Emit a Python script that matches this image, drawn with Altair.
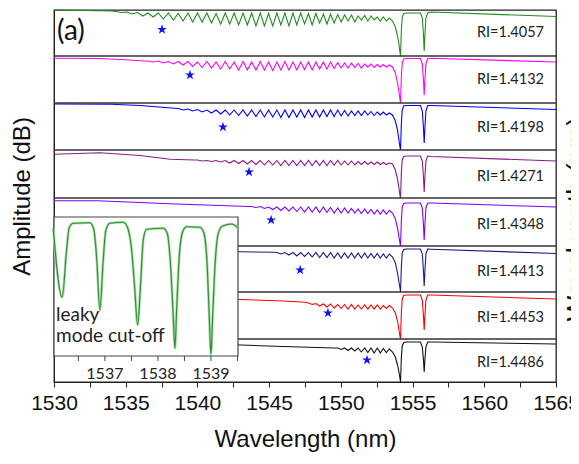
import altair as alt
import pandas as pd

# ---------------- data ----------------
RI = ["RI=1.4057", "RI=1.4132", "RI=1.4198", "RI=1.4271",
      "RI=1.4348", "RI=1.4413", "RI=1.4453", "RI=1.4486"]
COLORS = ["#1f8f1f", "#ff00ff", "#0000ff", "#8b1a8b",
          "#8000ff", "#1a1a8c", "#ff0000", "#111111"]

# cladding-mode resonance dips and the maxima between them (nm)
DIP_WL = [1533.15, 1533.93, 1534.70, 1535.45, 1536.19, 1536.91, 1537.62, 1538.32, 1539.00, 1539.67,
          1540.33, 1540.98, 1541.62, 1542.25, 1542.87, 1543.48, 1544.08, 1544.67, 1545.25, 1545.82,
          1546.38, 1546.93, 1547.47, 1548.00, 1548.52, 1549.03, 1549.53, 1550.02, 1550.50, 1550.97,
          1551.43, 1551.88, 1552.32, 1552.75, 1553.17]
PEAK_WL = [1532.75, 1533.54, 1534.32, 1535.08, 1535.82, 1536.55, 1537.27, 1537.97, 1538.66, 1539.34,
           1540.00, 1540.66, 1541.30, 1541.94, 1542.56, 1543.18, 1543.78, 1544.38, 1544.96, 1545.54,
           1546.10, 1546.66, 1547.20, 1547.74, 1548.26, 1548.78, 1549.28, 1549.78, 1550.26, 1550.74,
           1551.20, 1551.66, 1552.10, 1552.54, 1552.96, 1553.38]

# per spectrum: drop below the panel top (relative dB)
GREEN_BASE = [[1530, 0.0], [1532, 0.5], [1534, 1.0]]
GREEN_FIRST = 2
GREEN_PEAKS = [1.5, 2, 2.5, 3, 3, 3, 3.5, 3, 3, 3, 3.5, 3, 3, 3, 3, 3, 3.5, 3, 3, 3, 3, 3.5, 3.5,
               4, 4, 4.5, 5, 5, 6, 5.5, 6, 7, 7, 8]
GREEN_DIPS = [2.5, 4, 6, 7, 9, 10, 11, 12, 12, 13, 14, 14, 15, 15, 16, 16, 16, 15, 16, 15,
              14, 15, 13, 14, 13, 12, 11, 12, 10, 11, 10, 11, 11]
GREEN_TAIL = [[1553.6, 11], [1553.8, 17], [1553.95, 26], [1554.05, 34], [1554.12, 42], [1554.16, 46],
              [1554.22, 20], [1554.28, 7], [1554.38, 3.5], [1554.55, 3], [1555.55, 3], [1555.68, 8],
              [1555.76, 25], [1555.81, 41], [1555.86, 25], [1555.93, 8], [1556.05, 3], [1556.3, 2],
              [1565, 6.5]]

MAGENTA_BASE = [[1530, 2.3], [1533.2, 2.5], [1535, 3.8], [1536.3, 5]]
MAGENTA_FIRST = 5
MAGENTA_PEAKS = [5, 5, 5.5, 5.5, 5.5, 6, 5.5, 6, 5.5, 6, 5.5, 6, 5.5, 6, 6, 5.5, 6, 6, 6, 6,
                 6, 6, 6.5, 7, 7, 7.5, 8, 8, 8.5, 8.5, 9]
MAGENTA_DIPS = [6, 7, 8, 9, 10.5, 11.5, 12, 13, 13, 14, 14, 14, 14, 14.5, 14, 14, 14, 13.5, 14, 13,
                13, 12.5, 12, 12, 11.5, 12, 11, 11.5, 11, 11]
MAGENTA_TAIL = [[1553.6, 11], [1553.8, 17], [1553.95, 27], [1554.05, 36], [1554.12, 43], [1554.16, 47],
                [1554.22, 20], [1554.28, 7], [1554.38, 3], [1554.55, 2.5], [1555.55, 2.5], [1555.68, 8],
                [1555.76, 24], [1555.81, 39], [1555.86, 24], [1555.93, 8], [1556.05, 2.5], [1556.3, 2.3],
                [1565, 6]]

BLUE_BASE = [[1530, 1], [1534, 1.2], [1536, 2.5], [1538.4, 5.2]]
BLUE_FIRST = 8
BLUE_PEAKS = [5.5, 6, 6.5, 7, 7, 7, 7, 7, 7, 7, 7, 7, 7, 7, 7, 7, 7, 7, 7, 7,
              7.5, 8, 8, 8, 8.5, 9, 9, 10]
BLUE_DIPS = [7, 8, 9, 10, 11, 12, 12.5, 13, 13.5, 14, 14, 14.5, 14.5, 14, 14.5, 14, 14, 13.5, 13.5, 13,
             13, 12.5, 12.5, 12, 12.5, 12, 12]
BLUE_TAIL = [[1553.6, 12], [1553.8, 18], [1553.95, 27], [1554.05, 37], [1554.12, 44], [1554.16, 47],
             [1554.22, 20], [1554.28, 7], [1554.38, 3], [1554.55, 2.5], [1555.55, 2.5], [1555.68, 8],
             [1555.76, 25], [1555.81, 40], [1555.86, 25], [1555.93, 8], [1556.05, 2.5], [1556.3, 2.5],
             [1565, 6.5]]

PURPLE_BASE = [[1530, 4.3], [1533.2, 2.7], [1536, 5.5], [1538.1, 9.3], [1539.8, 10]]
PURPLE_FIRST = 10
PURPLE_PEAKS = [10, 10.5, 10.5, 10.5, 10.5, 10.5, 10.5, 10.5, 10.5, 10.5, 10.5, 10.5, 10.5, 10.5,
                10.5, 10.5, 10.5, 10.5, 11, 11, 11.5, 11.5, 12, 12, 12.5, 13]
PURPLE_DIPS = [11, 11.5, 12, 13, 13.5, 14, 14.5, 15, 15, 15.5, 15.5, 15.5, 15.5, 15.5, 15.5, 15.5,
               15, 15, 15, 15, 14.5, 14.5, 14.5, 14.5, 14.5]
PURPLE_TAIL = [[1553.6, 14], [1553.8, 20], [1553.95, 29], [1554.05, 38], [1554.12, 45], [1554.16, 48],
               [1554.22, 22], [1554.28, 10], [1554.38, 6.5], [1554.55, 6], [1555.55, 6], [1555.68, 11],
               [1555.76, 27], [1555.81, 42], [1555.86, 27], [1555.93, 11], [1556.05, 6], [1556.3, 6.5],
               [1565, 11]]

VIOLET_BASE = [[1530, 2.7], [1533, 2.7], [1538.5, 6], [1541.6, 7.5], [1543.6, 8.5]]
VIOLET_FIRST = 16
VIOLET_PEAKS = [8.5, 8.5, 9, 9, 9, 9, 9, 9, 9, 9, 9.5, 10, 10, 10.5, 11, 11, 11.5, 12, 12, 12.5]
VIOLET_DIPS = [9.5, 10.5, 11.5, 12.5, 13, 13.5, 14, 14, 14.5, 14.5, 15, 15, 15, 15, 15.5, 15.5, 16, 16, 16]
VIOLET_TAIL = [[1553.6, 15], [1553.8, 21], [1553.95, 30], [1554.05, 39], [1554.12, 45], [1554.16, 48],
               [1554.22, 22], [1554.28, 9], [1554.38, 5.5], [1554.55, 5], [1555.55, 5], [1555.68, 10],
               [1555.76, 27], [1555.81, 42], [1555.86, 27], [1555.93, 10], [1556.05, 5], [1556.3, 5],
               [1565, 9]]

NAVY_BASE = [[1530, 2], [1535, 3], [1540, 4.5], [1543, 5.7], [1545.3, 6.3]]
NAVY_FIRST = 19
NAVY_PEAKS = [6.5, 6.5, 6.5, 6.5, 6.5, 6.5, 6.5, 6.5, 7, 7, 7, 7, 7, 7.5, 7.5, 8, 8]
NAVY_DIPS = [8, 9, 10, 10.5, 11, 11.5, 11.5, 12, 12, 12, 12, 12, 12, 12, 12, 12]
NAVY_TAIL = [[1553.6, 11], [1553.8, 17], [1553.95, 27], [1554.05, 36], [1554.12, 42], [1554.16, 46],
             [1554.22, 20], [1554.28, 7], [1554.38, 3.5], [1554.55, 3], [1555.55, 3], [1555.68, 8],
             [1555.76, 25], [1555.81, 40], [1555.86, 25], [1555.93, 8], [1556.05, 3], [1556.3, 3.2],
             [1565, 7.5]]

RED_BASE = [[1530, 3], [1535, 4.5], [1540, 6], [1543, 7.5], [1546, 9], [1547.5, 10.3]]
RED_FIRST = 23
RED_PEAKS = [11, 11.5, 12, 12, 12.5, 12.5, 12.5, 13, 13, 13, 13, 13.5, 13.5]
RED_DIPS = [12.5, 14, 15, 16, 16.5, 17, 17, 17, 17, 17, 17, 16.5]
RED_TAIL = [[1553.6, 16], [1553.8, 21], [1553.95, 29], [1554.05, 38], [1554.12, 44], [1554.16, 47],
            [1554.22, 20], [1554.28, 7], [1554.38, 3.5], [1554.55, 3], [1555.55, 3], [1555.68, 8],
            [1555.76, 24], [1555.81, 38], [1555.86, 24], [1555.93, 8], [1556.05, 3], [1556.3, 3],
            [1565, 7]]

BLACK_BASE = [[1530, 2], [1535, 3.5], [1540, 5], [1543, 6], [1546, 7.5], [1549.5, 9]]
BLACK_FIRST = 27
BLACK_PEAKS = [9, 9, 9, 9, 9, 9, 9, 9.5, 10]
BLACK_DIPS = [10.5, 11.5, 12, 13, 13.5, 14, 14, 13.5]
BLACK_TAIL = [[1553.6, 13], [1553.8, 18], [1553.95, 26], [1554.05, 33], [1554.12, 39], [1554.16, 43],
              [1554.22, 18], [1554.28, 7], [1554.38, 3.5], [1554.55, 3], [1555.55, 3], [1555.68, 8],
              [1555.76, 21], [1555.81, 33], [1555.86, 21], [1555.93, 8], [1556.05, 3], [1556.3, 3],
              [1565, 5]]

# cut-off markers (wavelength, drop below panel top)
STAR_WL = [1537.53, 1539.48, 1541.78, 1543.60, 1545.14, 1547.16, 1549.10, 1551.82]
STAR_DROP = [19.5, 19, 24, 22, 22, 24, 21, 21]

# inset: zoom of the RI=1.4057 spectrum (wavelength nm, amplitude dB)
INSET_WL = [1536.025, 1536.194, 1536.277, 1536.326, 1536.402, 1536.717, 1536.792, 1536.843, 1536.906,
            1536.968, 1537.019, 1537.094, 1537.345, 1537.421, 1537.504, 1537.560, 1537.617, 1537.674,
            1537.723, 1537.787, 1538.100, 1538.175, 1538.240, 1538.289, 1538.321, 1538.353, 1538.402,
            1538.466, 1538.542, 1538.792, 1538.868, 1538.930, 1538.968, 1539.000, 1539.032, 1539.075,
            1539.138, 1539.221, 1539.391, 1539.515]
INSET_DB = [-1.13, -8.03, -3.3, -1.1, -0.63, -0.57, -1.3, -3.97, -9.3, -4.3, -1.3, -0.63, -0.53,
            -0.97, -3.3, -6.97, -10.8, -6.63, -2.3, -1.23, -1.13, -1.63, -4.97, -9.97, -13.13, -9.3,
            -3.97, -1.47, -0.97, -1.03, -1.63, -4.97, -9.97, -13.73, -9.97, -4.97, -1.63, -0.9, -0.7,
            -1.13]
INSET_MAJOR = [1537, 1538, 1539]
INSET_MINOR = [1536.5, 1537.5, 1538.5, 1539.5]

# ---------------- layout ----------------
PLOT_W, PLOT_H = 502, 372
X0, X1 = 1530, 1565
PANEL_TOP = [0, 46, 93, 140, 188, 236, 282, 329]
LABEL_Y = [23, 70, 118, 167, 215, 262, 308, 353]
DIVIDERS = PANEL_TOP[1:]
AXIS_FONT = "Liberation Sans"
TEXT_FONT = "Lato"
STAR_PATH = ("M0,-1L0.2245,-0.309L0.951,-0.309L0.363,0.118L0.588,0.809L0,0.382"
             "L-0.588,0.809L-0.363,0.118L-0.951,-0.309L-0.2245,-0.309Z")

# inset axes: its wavelength window sits over the first 184 px, its dB window over 207..346 px
INSET_X_DOMAIN = (1536.04, 1539.51)
INSET_X_PX = (0, 184)
INSET_Y_DOMAIN = (-13.9, 0.0)
INSET_Y_PX = (346, 207)
PX_PER_NM = PLOT_W / (X1 - X0)


def inset_x(wl):
    px = INSET_X_PX[0] + (wl - INSET_X_DOMAIN[0]) / (INSET_X_DOMAIN[1] - INSET_X_DOMAIN[0]) * (INSET_X_PX[1] - INSET_X_PX[0])
    return X0 + px / PX_PER_NM


def inset_y(db):
    return INSET_Y_PX[0] + (db - INSET_Y_DOMAIN[0]) / (INSET_Y_DOMAIN[1] - INSET_Y_DOMAIN[0]) * (INSET_Y_PX[1] - INSET_Y_PX[0])


SPECTRA = [
    (GREEN_BASE, GREEN_FIRST, GREEN_PEAKS, GREEN_DIPS, GREEN_TAIL),
    (MAGENTA_BASE, MAGENTA_FIRST, MAGENTA_PEAKS, MAGENTA_DIPS, MAGENTA_TAIL),
    (BLUE_BASE, BLUE_FIRST, BLUE_PEAKS, BLUE_DIPS, BLUE_TAIL),
    (PURPLE_BASE, PURPLE_FIRST, PURPLE_PEAKS, PURPLE_DIPS, PURPLE_TAIL),
    (VIOLET_BASE, VIOLET_FIRST, VIOLET_PEAKS, VIOLET_DIPS, VIOLET_TAIL),
    (NAVY_BASE, NAVY_FIRST, NAVY_PEAKS, NAVY_DIPS, NAVY_TAIL),
    (RED_BASE, RED_FIRST, RED_PEAKS, RED_DIPS, RED_TAIL),
    (BLACK_BASE, BLACK_FIRST, BLACK_PEAKS, BLACK_DIPS, BLACK_TAIL),
]

rows = []
for i, (base, first, peaks, dips, tail) in enumerate(SPECTRA):
    pts = [tuple(p) for p in base]
    for k in range(first, len(DIP_WL)):
        pts.append((PEAK_WL[k], peaks[k - first]))
        pts.append((DIP_WL[k], dips[k - first]))
    pts.append((PEAK_WL[-1], peaks[-1]))
    pts += [tuple(p) for p in tail]
    for w, d in pts:
        rows.append({"panel": RI[i], "wl": w, "ypx": PANEL_TOP[i] + d})
spec = pd.DataFrame(rows)

stars = pd.DataFrame({"wl": STAR_WL, "ypx": [t + d for t, d in zip(PANEL_TOP, STAR_DROP)]})
labels = pd.DataFrame({"txt": RI, "ypx": LABEL_Y, "wl": [X0 + 490 / PX_PER_NM] * 8})
divs = pd.DataFrame({"ypx": DIVIDERS})

XS = alt.Scale(domain=[X0, X1], nice=False, zero=False)
YS = alt.Scale(domain=[PLOT_H, 0], nice=False, zero=False)

tick_vals = [X0 + 2.5 * i for i in range(15)]
x_axis = alt.Axis(values=tick_vals, labelExpr="datum.value % 5 == 0 ? datum.label : ''",
                  format="d", tickSize=5, tickColor="#222", domainColor="#222", labelColor="#111",
                  labelFont=AXIS_FONT, labelFontSize=21, labelPadding=5, labelFlush=False,
                  labelOverlap=False, grid=False, title="Wavelength (nm)", titleFont=AXIS_FONT,
                  titleFontSize=24, titleFontWeight="normal", titleColor="#111", titlePadding=14)
y_axis = alt.Axis(labels=False, ticks=False, grid=False, domainColor="#222",
                  title="Amplitude (dB)", titleFont=AXIS_FONT, titleFontSize=24,
                  titleFontWeight="normal", titleColor="#111", titlePadding=20)

X = lambda f="wl": alt.X(f"{f}:Q", scale=XS, axis=x_axis)
Y = lambda f="ypx": alt.Y(f"{f}:Q", scale=YS, axis=y_axis)

lines = alt.Chart(spec).mark_line(strokeWidth=1.1).encode(
    x=X(), y=Y(),
    color=alt.Color("panel:N", scale=alt.Scale(domain=RI, range=COLORS), legend=None),
)
rules = alt.Chart(divs).mark_rule(color="#333", strokeWidth=1.6).encode(y=Y())
star_pts = alt.Chart(stars).mark_point(shape=STAR_PATH, filled=True, color="#1010ff",
                                       size=110, opacity=1).encode(x=X(), y=Y())
ri_text = alt.Chart(labels).mark_text(align="right", baseline="middle", font=TEXT_FONT,
                                      fontSize=14.5, color="#222").encode(
    x=X(), y=Y(), text="txt:N")
tag = alt.Chart(pd.DataFrame({"t": ["(a)"], "wl": [X0 + 3 / PX_PER_NM], "ypx": [22]})).mark_text(
    align="left", baseline="middle", font=TEXT_FONT, fontSize=28, color="#111").encode(
    x=X(), y=Y(), text="t:N")

# inset
box_df = pd.DataFrame({"wl": [inset_x(INSET_X_DOMAIN[0])], "wl2": [inset_x(INSET_X_DOMAIN[1])],
                       "ypx": [INSET_Y_PX[1]], "ypx2": [INSET_Y_PX[0]]})
box = alt.Chart(box_df).mark_rect(fill="white", stroke="#444", strokeWidth=1.2).encode(
    x=X(), x2="wl2:Q", y=Y(), y2="ypx2:Q")
inset_df = pd.DataFrame({"wl": [inset_x(w) for w in INSET_WL], "ypx": [inset_y(d) for d in INSET_DB]})
halo = alt.Chart(inset_df).mark_line(color="#a6d9a6", strokeWidth=2.6, interpolate="monotone").encode(
    x=X(), y=Y())
curve = alt.Chart(inset_df).mark_line(color="#2a922a", strokeWidth=1.1, interpolate="monotone").encode(
    x=X(), y=Y())
tick_df = pd.DataFrame({"wl": [inset_x(w) for w in INSET_MAJOR + INSET_MINOR],
                        "ypx": [INSET_Y_PX[0]] * 7, "ypx2": [INSET_Y_PX[0] + 5] * 7})
iticks = alt.Chart(tick_df).mark_rule(color="#444", strokeWidth=1).encode(x=X(), y=Y(), y2="ypx2:Q")
ilab_df = pd.DataFrame({"wl": [inset_x(w) for w in INSET_MAJOR], "ypx": [INSET_Y_PX[0] + 18] * 3,
                        "t": [str(v) for v in INSET_MAJOR]})
ilabs = alt.Chart(ilab_df).mark_text(font=TEXT_FONT, fontSize=16, color="#222",
                                     baseline="middle").encode(x=X(), y=Y(), text="t:N")
note_df = pd.DataFrame({"t": ["leaky", "mode cut-off"], "wl": [X0 + 2 / PX_PER_NM] * 2,
                        "ypx": [305, 326]})
notes = alt.Chart(note_df).mark_text(align="left", baseline="middle", font=TEXT_FONT,
                                     fontSize=19, color="#222").encode(x=X(), y=Y(), text="t:N")

# clipped title of the neighbouring panel at the right edge
cut_df = pd.DataFrame({"t": ["Wavelength (nm)"], "wl": [X0 + 511 / PX_PER_NM], "ypx": [209]})
cut = alt.Chart(cut_df).mark_text(align="center", baseline="top", angle=270, font=AXIS_FONT,
                                  fontSize=27, color="#111").encode(x=X(), y=Y(), text="t:N")

chart = alt.layer(
    lines, rules, star_pts, ri_text, tag, box, halo, curve, iticks, ilabs, notes, cut
).properties(
    width=PLOT_W, height=PLOT_H,
    padding={"left": 46, "top": 2, "right": 15, "bottom": 70},
    autosize=alt.AutoSizeParams(type="none"),
).configure_view(stroke="#222", strokeWidth=1.3)

chart.save("out.html", embed_options={"renderer": "svg", "actions": False})
